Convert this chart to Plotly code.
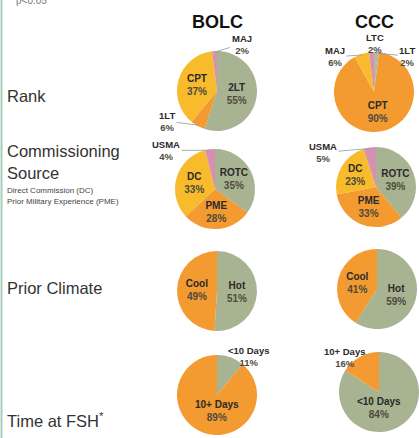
import math
import plotly.graph_objects as go

W, H = 419, 438

# ---------------- data ----------------
column_titles = ["BOLC", "CCC"]
row_titles = ["Rank", "Commissioning", "Source", "Prior Climate", "Time at FSH<sup>*</sup>"]
source_notes = ["Direct Commission (DC)", "Prior Military Experience (PME)"]
pvalue_note = "p<0.05"

rank_bolc_labels = ["2LT", "1LT", "CPT", "MAJ"]
rank_bolc_values = [55, 6, 37, 2]
rank_ccc_labels = ["1LT", "CPT", "MAJ", "LTC"]
rank_ccc_values = [2, 90, 6, 2]

source_labels = ["ROTC", "PME", "DC", "USMA"]
source_bolc_values = [35, 28, 33, 4]
source_ccc_values = [39, 33, 23, 5]

climate_labels = ["Hot", "Cool"]
climate_bolc_values = [51, 49]
climate_ccc_values = [59, 41]

time_labels = ["<10 Days", "10+ Days"]
time_bolc_values = [11, 89]
time_ccc_values = [84, 16]

# ---------------- style ----------------
GREEN = "#a8b391"
GREY_GREEN = "#b5b9a4"
ORANGE = "#f39a30"
YELLOW = "#f7bb2c"
PINK = "#d690b0"
FONT = "Liberation Sans, Arial, sans-serif"
TXT = "#2a2a2a"
PCT = "#4f4a3c"

D = 80  # pie diameter px

pies = [
    dict(key="rank_bolc", labels=rank_bolc_labels, values=rank_bolc_values,
         colors=[GREEN, ORANGE, YELLOW, PINK], c=(217, 91)),
    dict(key="rank_ccc", labels=rank_ccc_labels, values=rank_ccc_values,
         colors=[GREY_GREEN, ORANGE, YELLOW, PINK], c=(374, 92)),
    dict(key="src_bolc", labels=source_labels, values=source_bolc_values,
         colors=[GREEN, ORANGE, YELLOW, PINK], c=(215, 189)),
    dict(key="src_ccc", labels=source_labels, values=source_ccc_values,
         colors=[GREEN, ORANGE, YELLOW, PINK], c=(376, 187)),
    dict(key="clim_bolc", labels=climate_labels, values=climate_bolc_values,
         colors=[GREEN, ORANGE], c=(217, 291)),
    dict(key="clim_ccc", labels=climate_labels, values=climate_ccc_values,
         colors=[GREEN, ORANGE], c=(377, 289)),
    dict(key="time_bolc", labels=time_labels, values=time_bolc_values,
         colors=[GREEN, ORANGE], c=(217, 395)),
    dict(key="time_ccc", labels=time_labels, values=time_ccc_values,
         colors=[GREEN, ORANGE], c=(379, 392)),
]

# callout labels (outside the pie) -> text offset in px from slice edge
callouts = {
    ("rank_bolc", "MAJ"): (27, -8),
    ("rank_bolc", "1LT"): (-31, -4),
    ("rank_ccc", "1LT"): (31, 3),
    ("rank_ccc", "MAJ"): (-27, 2),
    ("rank_ccc", "LTC"): (3, -10),
    ("src_bolc", "USMA"): (-44, 0),
    ("src_ccc", "USMA"): (-47, 4),
    ("time_bolc", "<10 Days"): (18, -2),
    ("time_ccc", "10+ Days"): (-16, 0),
}


def px_to_paper(x, y):
    return x / W, 1 - y / H


fig = go.Figure()
annotations = []

for p in pies:
    cx, cy = p["c"]
    x0, y1 = px_to_paper(cx - D / 2, cy - D / 2)
    x1, y0 = px_to_paper(cx + D / 2, cy + D / 2)
    positions = ["none" if (p["key"], lab) in callouts else "inside" for lab in p["labels"]]
    fig.add_trace(go.Pie(
        labels=p["labels"], values=p["values"], sort=False,
        direction="clockwise", rotation=0,
        marker=dict(colors=p["colors"], line=dict(width=0)),
        texttemplate="<b>%{label}</b><br><b><span style='color:" + PCT + "'>%{value}%</span></b>",
        textposition=positions,
        insidetextorientation="horizontal",
        textfont=dict(family=FONT, size=10, color=TXT),
        domain=dict(x=[x0, x1], y=[y0, y1]),
        showlegend=False, hoverinfo="label+value",
    ))
    total = sum(p["values"])
    cum = 0
    for lab, v in zip(p["labels"], p["values"]):
        mid = 2 * math.pi * (cum + v / 2) / total
        cum += v
        if (p["key"], lab) not in callouts:
            continue
        ax, ay = callouts[(p["key"], lab)]
        r = D / 2 - 1
        ex = cx + r * math.sin(mid)
        ey = cy - r * math.cos(mid)
        px, py = px_to_paper(ex, ey)
        annotations.append(dict(
            x=px, y=py, xref="paper", yref="paper",
            text=f"<b>{lab}</b><br><b><span style='color:{PCT}'>{v}%</span></b>",
            showarrow=True, arrowhead=0, arrowwidth=0.8, arrowcolor="#8a9aa8",
            ax=ax, ay=ay, standoff=0,
            font=dict(family=FONT, size=9.5, color=TXT),
        ))

# column titles
for t, cx in zip(column_titles, [217, 374]):
    x, y = px_to_paper(cx, 22)
    annotations.append(dict(x=x, y=y, xref="paper", yref="paper", text=f"<b>{t}</b>",
                            showarrow=False, font=dict(family=FONT, size=18, color="#111"),
                            xanchor="center", yanchor="middle"))

# row titles
row_y = [96, 151, 173, 288, 420]
for t, yy in zip(row_titles, row_y):
    x, y = px_to_paper(5, yy)
    annotations.append(dict(x=x, y=y, xref="paper", yref="paper", text=t,
                            showarrow=False, font=dict(family=FONT, size=16.5, color="#333"),
                            xanchor="left", yanchor="middle"))
for t, yy in zip(source_notes, [190, 201]):
    x, y = px_to_paper(5, yy)
    annotations.append(dict(x=x, y=y, xref="paper", yref="paper", text=t,
                            showarrow=False, font=dict(family=FONT, size=8, color="#444"),
                            xanchor="left", yanchor="middle"))

x, y = px_to_paper(14, 0)
annotations.append(dict(x=x, y=y, xref="paper", yref="paper", text=pvalue_note,
                        showarrow=False, font=dict(family=FONT, size=10, color="#777"),
                        xanchor="left", yanchor="middle"))

fig.update_layout(
    width=W, height=H,
    margin=dict(l=0, r=0, t=0, b=0),
    paper_bgcolor="white", plot_bgcolor="white",
    annotations=annotations,
    shapes=[dict(type="line", xref="paper", yref="paper", x0=1.5 / W, x1=1.5 / W, y0=0, y1=1,
                 line=dict(color="#a9cdbd", width=2))],
)

fig.write_html("out.html", config={"displayModeBar": False},
               post_script="document.body.style.margin='0';document.body.style.overflow='hidden';")
